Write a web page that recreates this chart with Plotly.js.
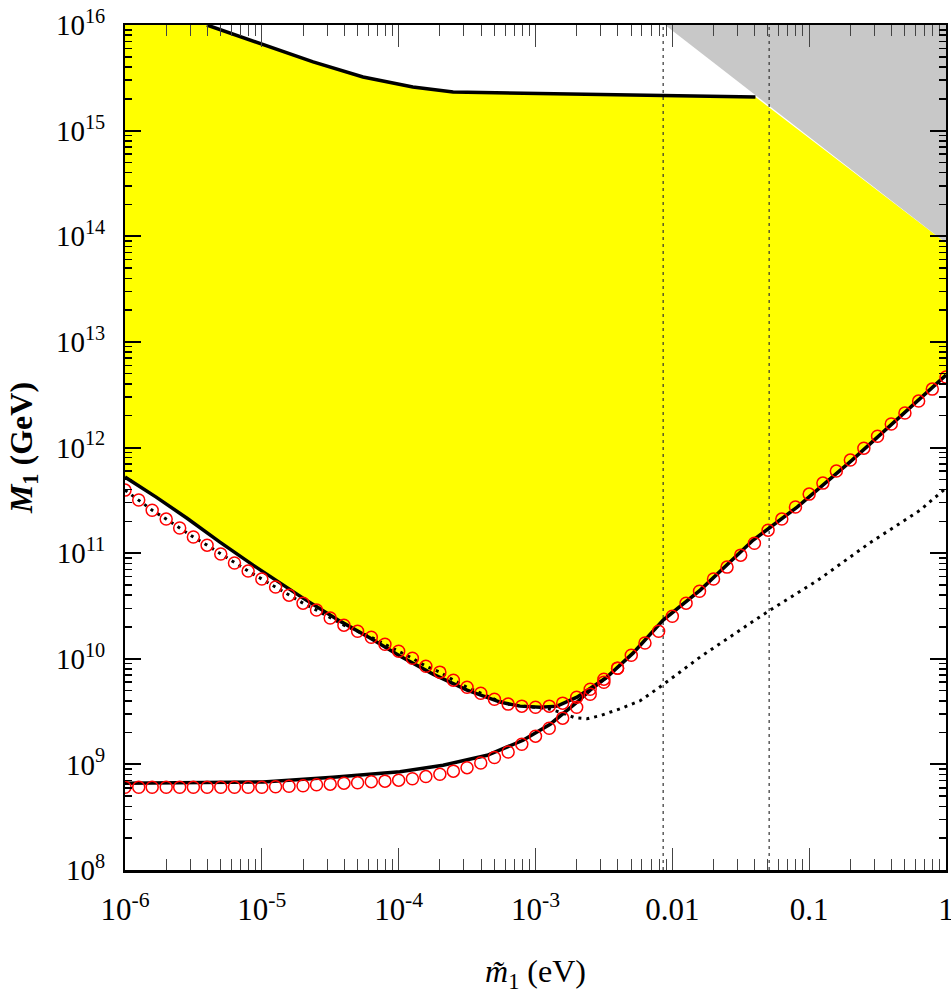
<!DOCTYPE html>
<html>
<head>
<meta charset="utf-8">
<script src="https://cdn.plot.ly/plotly-3.0.1.min.js"></script>
<style>html,body{margin:0;padding:0;background:#fff;}#chart{width:951px;height:994px;}</style>
</head>
<body>
<div id="chart"></div>
<script>
// ---- data (m1 tilde in eV, M1 in GeV) ----
// red circles, upper branch (every 0.1 decade)
const circUpX = [1e-6,1.26e-6,1.58e-6,2e-6,2.51e-6,3.16e-6,3.98e-6,5.01e-6,6.31e-6,7.94e-6,
  1e-5,1.26e-5,1.58e-5,2e-5,2.51e-5,3.16e-5,3.98e-5,5.01e-5,6.31e-5,7.94e-5,
  1e-4,1.26e-4,1.58e-4,2e-4,2.51e-4,3.16e-4,3.98e-4,5.01e-4,6.31e-4,7.94e-4,
  1e-3,1.26e-3,1.58e-3,2e-3,2.51e-3,3.16e-3,3.98e-3,5.01e-3,6.31e-3,7.94e-3,
  1e-2,1.26e-2,1.58e-2,2e-2,2.51e-2,3.16e-2,3.98e-2,5.01e-2,6.31e-2,7.94e-2,
  0.1,0.126,0.158,0.2,0.251,0.316,0.398,0.501,0.631,0.794,1];
const circUpY = [3.95e11,3.18e11,2.55e11,2.10e11,1.73e11,1.42e11,1.19e11,9.8e10,8.05e10,6.76e10,
  5.68e10,4.77e10,4.0e10,3.36e10,2.89e10,2.43e10,2.08e10,1.82e10,1.60e10,1.37e10,
  1.18e10,1.01e10,8.5e9,7.47e9,6.27e9,5.38e9,4.72e9,4.14e9,3.72e9,3.56e9,
  3.48e9,3.56e9,3.80e9,4.33e9,5.15e9,6.41e9,8.15e9,1.08e10,1.41e10,1.82e10,
  2.53e10,3.36e10,4.36e10,5.68e10,7.37e10,9.57e10,1.24e11,1.65e11,2.10e11,2.73e11,
  3.62e11,4.60e11,5.98e11,7.60e11,9.86e11,1.28e12,1.67e12,2.12e12,2.75e12,3.57e12,4.64e12];
// red circles, lower branch
const circLoX = [1e-6,1.26e-6,1.58e-6,2e-6,2.51e-6,3.16e-6,3.98e-6,5.01e-6,6.31e-6,7.94e-6,
  1e-5,1.26e-5,1.58e-5,2e-5,2.51e-5,3.16e-5,3.98e-5,5.01e-5,6.31e-5,7.94e-5,
  1e-4,1.26e-4,1.58e-4,2e-4,2.51e-4,3.16e-4,3.98e-4,5.01e-4,6.31e-4,7.94e-4,
  1e-3,1.26e-3,1.58e-3,2e-3,2.51e-3,3.16e-3,3.98e-3];
const circLoY = [6.08e8,6.08e8,6.08e8,6.08e8,6.08e8,6.08e8,6.08e8,6.08e8,6.08e8,6.08e8,
  6.08e8,6.15e8,6.21e8,6.28e8,6.42e8,6.50e8,6.64e8,6.71e8,6.86e8,6.94e8,
  7.09e8,7.32e8,7.66e8,8.07e8,8.63e8,9.31e8,1.03e9,1.16e9,1.31e9,1.55e9,
  1.85e9,2.20e9,2.74e9,3.48e9,4.62e9,6.0e9,8.15e9];
// solid curve bounding the yellow region from below
const solidUpX = [1e-6,1.69e-6,2.84e-6,4.94e-6,8.63e-6,1.36e-5,2.0e-5,3.73e-5,6.18e-5,1.02e-4,
  1.78e-4,3.16e-4,5.51e-4,7.71e-4,1.08e-3,1.44e-3,
  2.01e-3,3.33e-3,5.16e-3,8.57e-3,1.6e-2,3.9e-2,8.17e-2,0.206,1];
const solidUpY = [5.25e11,3.39e11,2.14e11,1.27e11,7.69e10,5.20e10,3.75e10,2.27e10,1.57e10,1.06e10,
  7.15e9,5.05e9,3.88e9,3.56e9,3.48e9,3.56e9,
  4.33e9,6.70e9,1.13e10,2.32e10,4.47e10,1.33e11,2.73e11,7.60e11,4.85e12];
// lower solid curve
const solidLoX = [1e-6,1.02e-5,3.31e-5,1.02e-4,2.11e-4,4.43e-4,8.11e-4,1.28e-3,2.01e-3,2.51e-3,3.33e-3];
const solidLoY = [6.64e8,6.82e8,7.57e8,8.53e8,9.82e8,1.22e9,1.69e9,2.40e9,3.88e9,5.05e9,6.70e9];
// dotted curve
const dotX = [1e-6,1.26e-6,1.58e-6,2e-6,2.51e-6,3.16e-6,3.98e-6,5.01e-6,6.31e-6,7.94e-6,
  1e-5,1.26e-5,1.58e-5,2e-5,2.51e-5,3.16e-5,3.98e-5,5.01e-5,6.31e-5,7.94e-5,
  1e-4,1.26e-4,1.58e-4,2e-4,2.51e-4,3.16e-4,3.98e-4,5.01e-4,6.31e-4,7.94e-4,
  1e-3,1.28e-3,1.56e-3,1.94e-3,2.38e-3,2.96e-3,4.15e-3,5.82e-3,8.15e-3,1.6e-2,3.71e-2,5.19e-2,0.116,0.275,0.647,1];
const dotY = [3.95e11,3.18e11,2.55e11,2.10e11,1.73e11,1.42e11,1.19e11,9.8e10,8.05e10,6.76e10,
  5.68e10,4.77e10,4.0e10,3.36e10,2.89e10,2.43e10,2.08e10,1.82e10,1.60e10,1.37e10,
  1.18e10,1.01e10,8.5e9,7.47e9,6.27e9,5.38e9,4.72e9,4.14e9,3.72e9,3.56e9,
  3.48e9,3.33e9,3.08e9,2.76e9,2.70e9,2.89e9,3.36e9,4.0e9,5.43e9,1.04e10,2.17e10,2.89e10,5.55e10,1.24e11,2.55e11,4.13e11];
// upper solid line
const topX = [3.97e-6,1.02e-5,2.37e-5,5.49e-5,1.27e-4,2.50e-4,4.05e-2];
const topY = [1e16,6.47e15,4.47e15,3.22e15,2.59e15,2.32e15,2.08e15];
// gray excluded triangle
const grayX = [8.85e-3,1,1];
const grayY = [1e16,8.63e13,1e16];
// vertical reference lines (m_sol, m_atm)
const vLines = [8.57e-3, 5.1e-2];
// axis ticks
const xTickVals = [1e-6,1e-5,1e-4,1e-3,1e-2,1e-1,1];
const xTickText = ['10<sup>-6</sup>','10<sup>-5</sup>','10<sup>-4</sup>','10<sup>-3</sup>','0.01','0.1','1'];
const yTickVals = [1e8,1e9,1e10,1e11,1e12,1e13,1e14,1e15,1e16];
const yTickText = ['10<sup>8</sup>','10<sup>9</sup>','10<sup>10</sup>','10<sup>11</sup>','10<sup>12</sup>','10<sup>13</sup>','10<sup>14</sup>','10<sup>15</sup>','10<sup>16</sup>'];

// ---- build ----
const yelX = [1e-6].concat(topX, [grayX[1]], solidUpX.slice().reverse());
const yelY = [1e16].concat(topY, [grayY[1]], solidUpY.slice().reverse());

function minorVals(lo, hi){ const v=[]; for(let e=lo;e<hi;e++){ for(let m=2;m<=9;m++) v.push(m*Math.pow(10,e)); } return v; }

const traces = [
  {x: yelX, y: yelY, type:'scatter', mode:'lines', fill:'toself', fillcolor:'#ffff00', line:{width:0, color:'rgba(0,0,0,0)'}, hoverinfo:'skip'},
  {x: grayX, y: grayY, type:'scatter', mode:'lines', fill:'toself', fillcolor:'#c8c8c8', line:{width:0, color:'rgba(0,0,0,0)'}, hoverinfo:'skip'}
];
vLines.forEach(v => traces.push({x:[v,v], y:[1e8,1e16], type:'scatter', mode:'lines', line:{color:'#333', width:1.2, dash:'3px,4px'}}));
traces.push(
  {x: topX, y: topY, type:'scatter', mode:'lines', line:{color:'#000', width:3.5}},
  {x: solidUpX, y: solidUpY, type:'scatter', mode:'lines', line:{color:'#000', width:3.5}},
  {x: solidLoX, y: solidLoY, type:'scatter', mode:'lines', line:{color:'#000', width:3.5}},
  {x: dotX, y: dotY, type:'scatter', mode:'lines', line:{color:'#000', width:3, dash:'3px,5px'}},
  {x: circUpX, y: circUpY, type:'scatter', mode:'markers', marker:{symbol:'circle-open', size:12, color:'#ff0000', line:{width:1.5, color:'#ff0000'}}},
  {x: circLoX, y: circLoY, type:'scatter', mode:'markers', marker:{symbol:'circle-open', size:12, color:'#ff0000', line:{width:1.5, color:'#ff0000'}}}
);

const font = "'Liberation Serif', 'Times New Roman', 'DejaVu Serif', serif";
const layout = {
  width:951, height:994,
  margin:{l:125, r:5, t:25, b:124},
  paper_bgcolor:'#fff', plot_bgcolor:'#fff',
  showlegend:false,
  font:{family:font, color:'#000'},
  xaxis:{
    type:'log', range:[-6,0], tickmode:'array', tickvals:xTickVals, ticktext:xTickText,
    ticks:'inside', ticklen:22, tickwidth:1, tickcolor:'#444',
    minor:{tickmode:'array', tickvals:minorVals(-6,0), ticks:'inside', ticklen:11, tickwidth:1, tickcolor:'#444', showgrid:false},
    showline:true, linewidth:2.5, linecolor:'#000', mirror:'ticks',
    showgrid:false, zeroline:false, ticklabelstandoff:10, ticklabeloverflow:'allow',
    tickfont:{family:font, size:31, color:'#000'},
    title:{text:'<i>m\u0303</i><sub>1</sub> (eV)', font:{family:font, size:32, color:'#000'}, standoff:37}
  },
  yaxis:{
    type:'log', range:[8,16], tickmode:'array', tickvals:yTickVals, ticktext:yTickText,
    ticks:'inside', ticklen:16, tickwidth:2, tickcolor:'#000',
    minor:{tickmode:'array', tickvals:minorVals(8,16), ticks:'inside', ticklen:7, tickwidth:1.5, tickcolor:'#000', showgrid:false},
    showline:true, linewidth:2, linecolor:'#000', mirror:'ticks',
    showgrid:false, zeroline:false, ticklabelstandoff:12, ticklabeloverflow:'allow',
    tickfont:{family:font, size:29, color:'#000'},
    title:{text:'<b><i>M</i><sub>1</sub> (GeV)</b>', font:{family:font, size:32, color:'#000'}, standoff:14}
  }
};
Plotly.newPlot('chart', traces, layout, {displayModeBar:false, staticPlot:true});
</script>
</body>
</html>
